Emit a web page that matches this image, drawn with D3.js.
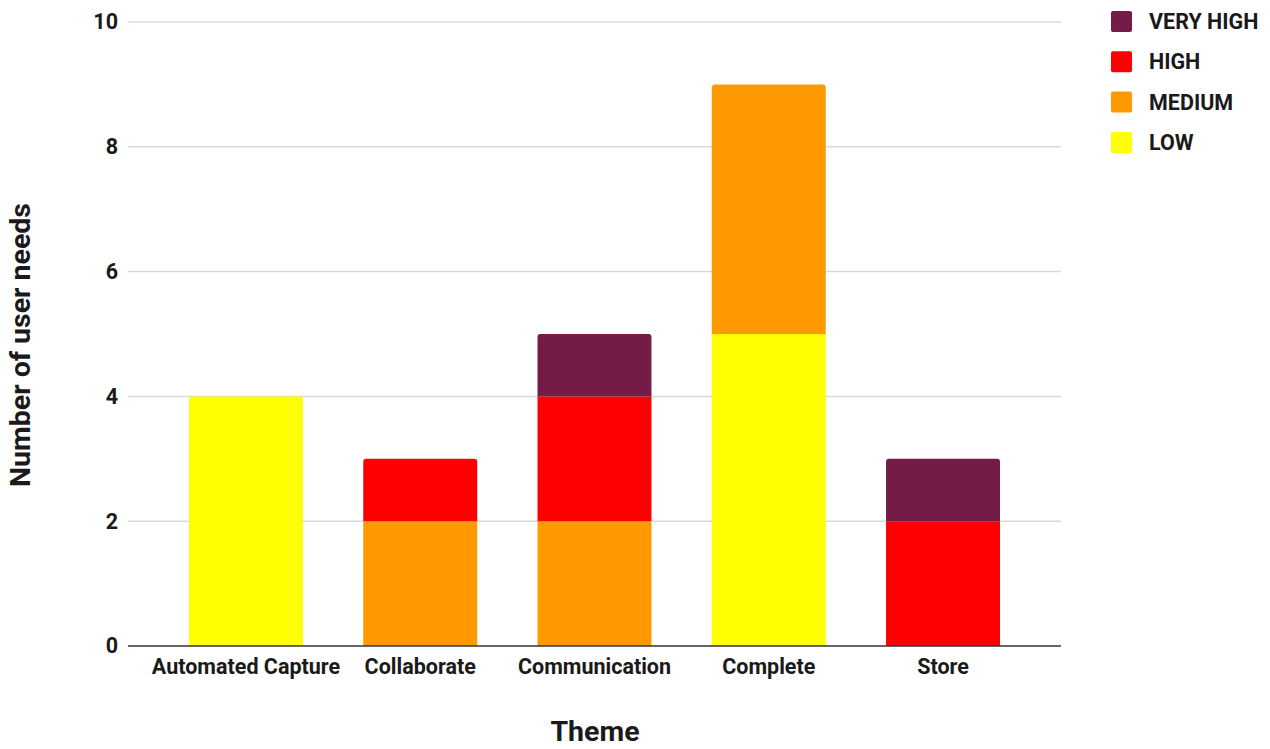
<!DOCTYPE html>
<html>
<head>
<meta charset="utf-8">
<script src="https://cdn.jsdelivr.net/npm/d3@7"></script>
<style>
  html, body { margin: 0; padding: 0; background: #fff; }
  svg { display: block; font-family: Roboto, "Liberation Sans", sans-serif; }
</style>
</head>
<body>
<svg id="chart" width="1270" height="749"></svg>
<script>
// Themes along the x axis
const themes = ["Automated Capture", "Collaborate", "Communication", "Complete", "Store"];
// Priority levels, stacked bottom to top
const levels = ["LOW", "MEDIUM", "HIGH", "VERY HIGH"];
const levelColors = ["#ffff00", "#ff9900", "#ff0000", "#741b47"];
// Number of user needs per theme, one array per level
const lowValues      = [4, 0, 0, 5, 0];
const mediumValues   = [0, 2, 2, 4, 0];
const highValues     = [0, 1, 2, 0, 2];
const veryHighValues = [0, 0, 1, 0, 1];
const yTicks = [0, 2, 4, 6, 8, 10];

const rows = themes.map((t, i) => ({
  theme: t,
  "LOW": lowValues[i],
  "MEDIUM": mediumValues[i],
  "HIGH": highValues[i],
  "VERY HIGH": veryHighValues[i]
}));

const svg = d3.select("#chart");
const plotLeft = 128, plotRight = 1061, plotTop = 22, plotBottom = 646;
const labelSize = 21.5, titleSize = 28.5, ink = "#1a1a1a";

const x = d3.scaleBand().domain(themes).range([plotLeft, plotRight])
  .paddingInner(0.346).paddingOuter(0.35);
const y = d3.scaleLinear().domain([0, 10]).range([plotBottom, plotTop]);
const color = d3.scaleOrdinal().domain(levels).range(levelColors);

// Horizontal gridlines
svg.append("g")
  .selectAll("line")
  .data(yTicks.filter(d => d > 0))
  .join("line")
  .attr("x1", plotLeft).attr("x2", plotRight)
  .attr("y1", d => y(d)).attr("y2", d => y(d))
  .attr("stroke", "#d9d9d9").attr("stroke-width", 1.5);

// Stacked bars
const stacked = d3.stack().keys(levels)(rows);
const topKey = rows.map(r => {
  let k = null;
  levels.forEach(l => { if (r[l] > 0) k = l; });
  return k;
});

const layers = svg.append("g").selectAll("g")
  .data(stacked)
  .join("g")
  .attr("fill", d => color(d.key));

layers.each(function(layer) {
  d3.select(this).selectAll("path")
    .data(layer.filter(d => d[1] - d[0] > 0))
    .join("path")
    .attr("d", d => {
      const x0 = x(d.data.theme), w = x.bandwidth();
      const y0 = y(d[1]), y1 = y(d[0]);
      const isTop = topKey[themes.indexOf(d.data.theme)] === layer.key;
      const r = isTop ? 3 : 0;
      return `M${x0},${y1} L${x0},${y0 + r} Q${x0},${y0} ${x0 + r},${y0} ` +
             `L${x0 + w - r},${y0} Q${x0 + w},${y0} ${x0 + w},${y0 + r} L${x0 + w},${y1} Z`;
    });
});

// Baseline
svg.append("line")
  .attr("x1", plotLeft).attr("x2", plotRight)
  .attr("y1", y(0)).attr("y2", y(0))
  .attr("stroke", "#333").attr("stroke-width", 1.5);

// Y axis tick labels
const yAxis = d3.axisLeft(y).tickValues(yTicks).tickSize(0).tickPadding(10);
svg.append("g")
  .attr("transform", `translate(${plotLeft},0)`)
  .call(yAxis)
  .call(g => g.select(".domain").remove())
  .call(g => g.selectAll("text")
    .attr("font-size", labelSize).attr("font-weight", "bold")
    .attr("font-family", "Roboto, sans-serif").attr("fill", ink));

// X axis tick labels
const xAxis = d3.axisBottom(x).tickSize(0).tickPadding(13);
svg.append("g")
  .attr("transform", `translate(0,${plotBottom})`)
  .call(xAxis)
  .call(g => g.select(".domain").remove())
  .call(g => g.selectAll("text")
    .attr("font-size", labelSize).attr("font-weight", "bold")
    .attr("font-family", "Roboto, sans-serif").attr("fill", ink));

// Axis titles
svg.append("text")
  .attr("x", 595).attr("y", 741)
  .attr("text-anchor", "middle")
  .attr("font-size", titleSize).attr("font-weight", "bold").attr("fill", ink)
  .text("Theme");

svg.append("text")
  .attr("transform", `translate(30,345) rotate(-90)`)
  .attr("text-anchor", "middle")
  .attr("font-size", titleSize).attr("font-weight", "bold").attr("fill", ink)
  .text("Number of user needs");

// Legend (highest level first)
const legendLevels = levels.slice().reverse();
const legend = svg.append("g").selectAll("g")
  .data(legendLevels)
  .join("g")
  .attr("transform", (d, i) => `translate(1111,${11 + i * 40.3})`);

legend.append("rect")
  .attr("width", 21).attr("height", 21).attr("rx", 2)
  .attr("fill", d => color(d));

legend.append("text")
  .attr("x", 38).attr("y", 18)
  .attr("font-size", labelSize).attr("font-weight", "bold").attr("fill", ink)
  .text(d => d);
</script>
</body>
</html>
